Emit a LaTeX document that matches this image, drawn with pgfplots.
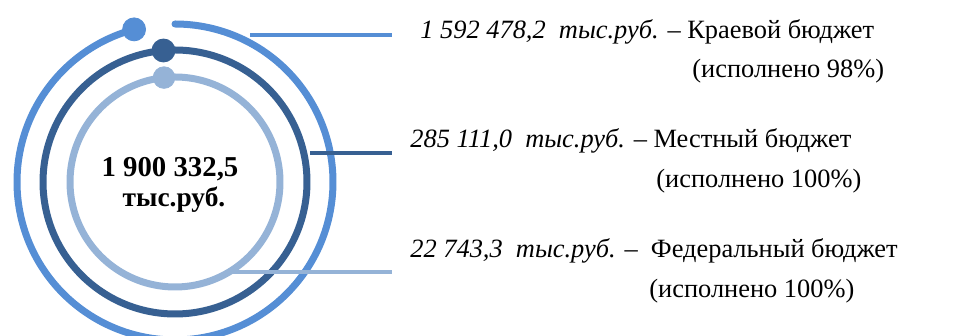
\documentclass[border=0pt]{standalone}
\usepackage{fontspec}
\setmainfont{Liberation Serif}
\usepackage{pgfplots}
\usepackage{pgfplotstable}
\pgfplotsset{compat=1.18}

\definecolor{ringA}{RGB}{85,142,213}
\definecolor{ringB}{RGB}{55,96,146}
\definecolor{ringC}{RGB}{149,179,215}

% radius and sweep in px, dot angle in degrees
\pgfplotstableread{
ring r sweep dot
a 158 345 105
b 132 360 95
c 105 360 96
}\rings

\newcommand\ring[2]{%
  \pgfplotstablegetelem{#1}{r}\of\rings \edef\R{\pgfplotsretval}%
  \pgfplotstablegetelem{#1}{sweep}\of\rings \edef\S{\pgfplotsretval}%
  \edef\tmp{\noexpand\addplot[#2, line width=3.5pt, line cap=round,
    domain=90:90-\S, samples=240, variable=\noexpand\t]
    ({175+\R*cos(\noexpand\t)},{154+\R*sin(\noexpand\t)});}%
  \tmp
}

\begin{document}
\begin{tikzpicture}
\begin{axis}[
    width=479pt, height=168pt, scale only axis,
    xmin=0, xmax=958, ymin=0, ymax=336,
    hide axis, clip=false,
]
\ring{0}{ringA}
\ring{1}{ringB}
\ring{2}{ringC}

% leader lines
\addplot[ringA, line width=1.6pt] coordinates {(250,301) (392,301)};
\addplot[ringB, line width=1.6pt] coordinates {(310,183) (392,183)};
\addplot[ringC, line width=1.6pt] coordinates {(233,64) (392,64)};

% dots at the start of each ring
\addplot[scatter, only marks, point meta=explicit symbolic,
    scatter/classes={
        a={mark=*, mark size=5.75pt, ringA, draw=ringA},
        b={mark=*, mark size=5.75pt, ringB, draw=ringB},
        c={mark=*, mark size=5.4pt, ringC, draw=ringC}},
] table[x expr={175+\thisrow{r}*cos(\thisrow{dot})},
        y expr={154+\thisrow{r}*sin(\thisrow{dot})}, meta=ring] {\rings};

\node[anchor=base, font=\fontsize{14.4}{16}\selectfont\bfseries] at (axis cs:170,159) {1 900 332,5};
\node[anchor=base, font=\fontsize{13.7}{16}\selectfont\bfseries] at (axis cs:174,129) {тыс.руб.};

\begin{scope}[every node/.style={anchor=base west, inner sep=0pt, font=\fontsize{13.2}{15}\selectfont}]
\node at (axis cs:420,297) {\textit{1 592 478,2\ \ тыс.руб.} – Краевой бюджет};
\node at (axis cs:692,258) {(исполнено 98\%)};
\node at (axis cs:410,188) {\textit{285 111,0\ \ тыс.руб.} – Местный бюджет};
\node at (axis cs:656,148) {(исполнено 100\%)};
\node at (axis cs:410,78) {\textit{22 743,3\ \ тыс.руб.} –\ \ Федеральный бюджет};
\node at (axis cs:649,38) {(исполнено 100\%)};
\end{scope}
\end{axis}
\pgfresetboundingbox
\path[use as bounding box] (current axis.south west) rectangle (current axis.north east);
\end{tikzpicture}
\end{document}
